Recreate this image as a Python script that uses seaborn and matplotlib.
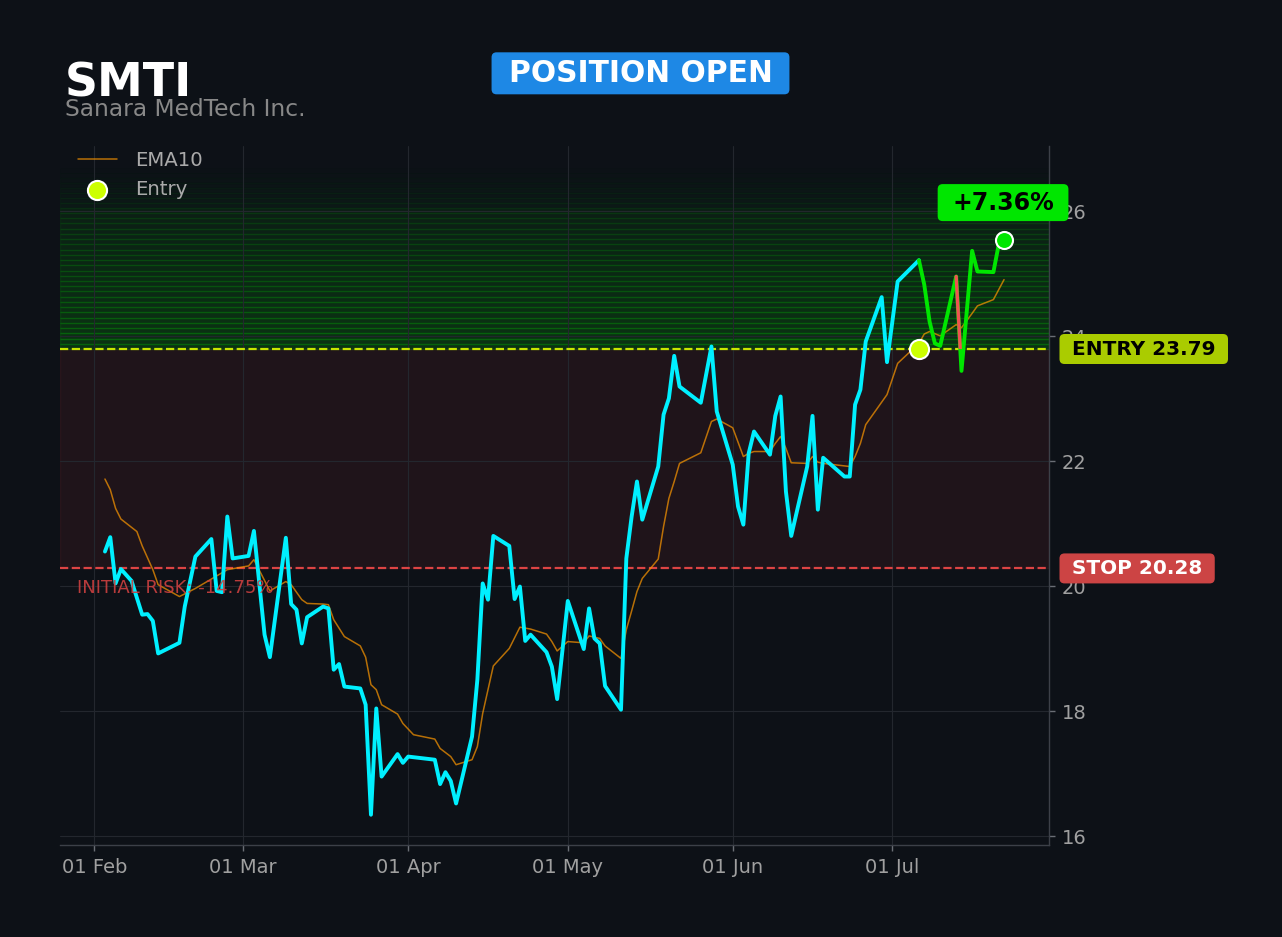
import matplotlib
matplotlib.use("Agg")
import matplotlib.pyplot as plt
import matplotlib.dates as mdates
from matplotlib.patches import FancyBboxPatch, Rectangle
from matplotlib.ticker import MultipleLocator
from matplotlib.transforms import IdentityTransform, blended_transform_factory
import seaborn as sns
import pandas as pd

sns.set_theme(style="dark")
plt.rcParams["font.family"] = ["DejaVu Sans"]

# ---------------- data ----------------
ticker = "SMTI"
company = "Sanara MedTech Inc."
status = "POSITION OPEN"
entry_price = 23.79
stop_price = 20.28
entry_date = "2025-07-06"
red_segment = ["2025-07-13", "2025-07-14"]

close_dates = (
    ["2025-02-03", "2025-02-04", "2025-02-05", "2025-02-06", "2025-02-08", "2025-02-10",
     "2025-02-11", "2025-02-12", "2025-02-13", "2025-02-17", "2025-02-18", "2025-02-20",
     "2025-02-23", "2025-02-24", "2025-02-25", "2025-02-26", "2025-02-27"]
    + ["2025-03-02", "2025-03-03", "2025-03-05", "2025-03-06", "2025-03-09", "2025-03-10",
       "2025-03-11", "2025-03-12", "2025-03-13", "2025-03-16", "2025-03-17", "2025-03-18",
       "2025-03-19", "2025-03-20", "2025-03-23", "2025-03-24", "2025-03-25", "2025-03-26",
       "2025-03-27", "2025-03-30", "2025-03-31"]
    + ["2025-04-01", "2025-04-06", "2025-04-07", "2025-04-08", "2025-04-09", "2025-04-10",
       "2025-04-13", "2025-04-14", "2025-04-15", "2025-04-16", "2025-04-17", "2025-04-20",
       "2025-04-21", "2025-04-22", "2025-04-23", "2025-04-24", "2025-04-27", "2025-04-28",
       "2025-04-29"]
    + ["2025-05-01", "2025-05-04", "2025-05-05", "2025-05-06", "2025-05-07", "2025-05-08",
       "2025-05-11", "2025-05-12", "2025-05-13", "2025-05-14", "2025-05-15", "2025-05-18",
       "2025-05-19", "2025-05-20", "2025-05-21", "2025-05-22", "2025-05-26", "2025-05-28",
       "2025-05-29"]
    + ["2025-06-01", "2025-06-02", "2025-06-03", "2025-06-04", "2025-06-05", "2025-06-08",
       "2025-06-09", "2025-06-10", "2025-06-11", "2025-06-12", "2025-06-15", "2025-06-16",
       "2025-06-17", "2025-06-18", "2025-06-22", "2025-06-23", "2025-06-24", "2025-06-25",
       "2025-06-26", "2025-06-29", "2025-06-30"]
    + ["2025-07-02", "2025-07-06", "2025-07-07", "2025-07-08", "2025-07-09", "2025-07-10",
       "2025-07-13", "2025-07-14", "2025-07-16", "2025-07-17", "2025-07-20", "2025-07-21",
       "2025-07-22"]
)
close_values = (
    [20.55, 20.78, 20.04, 20.27, 20.08, 19.54, 19.55, 19.44, 18.92, 19.09, 19.67, 20.47,
     20.75, 19.92, 19.90, 21.11, 20.44]
    + [20.48, 20.88, 19.22, 18.86, 20.77, 19.71, 19.62, 19.08, 19.50, 19.67, 19.64, 18.66,
       18.75, 18.39, 18.36, 18.10, 16.34, 18.04, 16.95, 17.31, 17.17]
    + [17.27, 17.22, 16.83, 17.02, 16.88, 16.52, 17.59, 18.50, 20.04, 19.78, 20.80, 20.64,
       19.79, 19.99, 19.12, 19.22, 18.94, 18.71, 18.19]
    + [19.76, 18.99, 19.64, 19.16, 19.08, 18.40, 18.02, 20.44, 21.11, 21.67, 21.06, 21.91,
       22.74, 23.00, 23.68, 23.19, 22.93, 23.83, 22.79]
    + [21.94, 21.27, 20.98, 22.12, 22.47, 22.10, 22.72, 23.03, 21.51, 20.80, 21.91, 22.72,
       21.22, 22.05, 21.75, 21.75, 22.90, 23.14, 23.91, 24.62, 23.58]
    + [24.87, 25.21, 24.82, 24.23, 23.88, 23.84, 24.95, 23.44, 25.36, 25.03, 25.02, 25.46,
       25.54]
)

ema_dates = (
    ["2025-02-03", "2025-02-04", "2025-02-05", "2025-02-06", "2025-02-09", "2025-02-10",
     "2025-02-12", "2025-02-13", "2025-02-17", "2025-02-20", "2025-02-23", "2025-02-26"]
    + ["2025-03-02", "2025-03-03", "2025-03-06", "2025-03-09", "2025-03-10", "2025-03-12",
       "2025-03-13", "2025-03-16", "2025-03-17", "2025-03-18", "2025-03-20", "2025-03-23",
       "2025-03-24", "2025-03-25", "2025-03-26", "2025-03-27", "2025-03-30", "2025-03-31"]
    + ["2025-04-02", "2025-04-06", "2025-04-07", "2025-04-09", "2025-04-10", "2025-04-13",
       "2025-04-14", "2025-04-15", "2025-04-17", "2025-04-20", "2025-04-22", "2025-04-24",
       "2025-04-27", "2025-04-28", "2025-04-29"]
    + ["2025-05-01", "2025-05-04", "2025-05-05", "2025-05-07", "2025-05-08", "2025-05-11",
       "2025-05-12", "2025-05-13", "2025-05-14", "2025-05-15", "2025-05-18", "2025-05-19",
       "2025-05-20", "2025-05-21", "2025-05-22", "2025-05-26", "2025-05-28", "2025-05-29"]
    + ["2025-06-01", "2025-06-02", "2025-06-03", "2025-06-04", "2025-06-05", "2025-06-08",
       "2025-06-09", "2025-06-10", "2025-06-11", "2025-06-12", "2025-06-15", "2025-06-16",
       "2025-06-17", "2025-06-18", "2025-06-23", "2025-06-24", "2025-06-25", "2025-06-26",
       "2025-06-30"]
    + ["2025-07-02", "2025-07-06", "2025-07-07", "2025-07-08", "2025-07-10", "2025-07-13",
       "2025-07-14", "2025-07-16", "2025-07-17", "2025-07-20", "2025-07-22"]
)
ema_values = (
    [21.71, 21.54, 21.24, 21.07, 20.87, 20.64, 20.26, 20.02, 19.83, 19.96, 20.11, 20.26]
    + [20.32, 20.42, 19.92, 20.07, 20.02, 19.78, 19.72, 19.71, 19.70, 19.46, 19.19, 19.04,
       18.86, 18.42, 18.34, 18.10, 17.95, 17.80]
    + [17.62, 17.55, 17.40, 17.27, 17.14, 17.22, 17.43, 17.96, 18.72, 19.00, 19.34, 19.31,
       19.23, 19.11, 18.96]
    + [19.11, 19.09, 19.20, 19.16, 19.04, 18.84, 19.30, 19.60, 19.91, 20.12, 20.43, 20.95,
       21.40, 21.67, 21.96, 22.13, 22.63, 22.67]
    + [22.53, 22.30, 22.07, 22.12, 22.15, 22.15, 22.28, 22.39, 22.20, 21.97, 21.96, 22.07,
       21.98, 21.96, 21.91, 22.07, 22.28, 22.58, 23.06]
    + [23.56, 23.88, 24.03, 24.07, 24.00, 24.18, 24.13, 24.36, 24.48, 24.58, 24.90]
)

y_ticks_step = 2
y_limits = (15.856, 27.04)
glow_top = 26.05

# ---------------- styling ----------------
BG = "#0d1117"
CYAN = "#00f0ff"
GREEN = "#00e600"
RED = "#ef5350"
EMA_C = "#ff9800"
ENTRY_LINE = "#c8e600"
ENTRY_BOX = "#aacc00"
ENTRY_DOT = "#ccff00"
STOP_LINE = "#dd4444"
STOP_BOX = "#cc4444"
GRID = "#23272e"
TXT = "#a0a0a0"

df = pd.DataFrame({"date": pd.to_datetime(close_dates), "close": close_values})
ema = pd.DataFrame({"date": pd.to_datetime(ema_dates), "ema": ema_values})
edate = pd.Timestamp(entry_date)
pre = df[df["date"] <= edate]
post = df[df["date"] >= edate]
redseg = df[df["date"].isin(pd.to_datetime(red_segment))]
last = df.iloc[-1]

fig = plt.figure(figsize=(12.82, 9.372), dpi=100)
fig.patch.set_facecolor(BG)
ax = fig.add_axes([60 / 1282, 92 / 937, 989 / 1282, 699 / 937])
ax.set_facecolor(BG)
ax.set_ylim(*y_limits)

# profit gradient zone (brighter near entry, fading upward)
n1 = 27
h1 = (glow_top - entry_price) / n1
for i in range(n1):
    a = 0.16 - 0.10 * i / n1
    ax.axhspan(entry_price + i * h1, entry_price + (i + 1) * h1, color=GREEN, alpha=a,
               lw=1, zorder=0.2)
n2 = 8
h2 = (y_limits[1] - 0.35 - glow_top) / n2
for i in range(n2):
    a = 0.035 * (1 - i / n2)
    ax.axhspan(glow_top + i * h2, glow_top + (i + 1) * h2, color=GREEN, alpha=a,
               lw=1, zorder=0.2)
# risk zone
ax.axhspan(stop_price, entry_price, color="#ff4444", alpha=0.08, zorder=0.2)

ax.axhline(entry_price, color=ENTRY_LINE, ls="--", lw=1.6, zorder=2)
ax.axhline(stop_price, color=STOP_LINE, ls="--", lw=1.6, zorder=2)

sns.lineplot(data=ema, x="date", y="ema", ax=ax, color=EMA_C, alpha=0.7, lw=1.1,
             zorder=2.5)
ema_line = ax.lines[-1]
sns.lineplot(data=pre, x="date", y="close", ax=ax, color=CYAN, lw=2.8, zorder=3)
sns.lineplot(data=post, x="date", y="close", ax=ax, color=GREEN, lw=2.8, zorder=3.2)
sns.lineplot(data=redseg, x="date", y="close", ax=ax, color=RED, lw=2.4, zorder=3.4)
red_line = ax.lines[-1]
clip_rect = Rectangle((0, entry_price), 1, 100,
                      transform=blended_transform_factory(ax.transAxes, ax.transData))
red_line.set_clip_path(clip_rect)

entry_sc = ax.scatter([edate], [entry_price], s=190, color=ENTRY_DOT, edgecolor="white",
                      linewidth=1.5, zorder=6)
ax.scatter([last["date"]], [last["close"]], s=150, color=GREEN, edgecolor="white",
           linewidth=1.5, zorder=6)

# axes cosmetics
ax.set_xlabel("")
ax.set_ylabel("")
ax.yaxis.tick_right()
ax.yaxis.set_major_locator(MultipleLocator(y_ticks_step))
ax.xaxis.set_major_locator(mdates.MonthLocator())
ax.xaxis.set_major_formatter(mdates.DateFormatter("%d %b"))
ax.tick_params(axis="both", labelsize=14, labelcolor=TXT, color="#6a6e75", length=4,
               width=1, pad=5)
ax.tick_params(axis="y", left=False, right=True)
ax.tick_params(axis="x", bottom=True)
ax.grid(True, color=GRID, lw=0.8)
ax.set_axisbelow(True)
for s in ["top", "left"]:
    ax.spines[s].set_visible(False)
for s in ["bottom", "right"]:
    ax.spines[s].set_visible(True)
    ax.spines[s].set_color("#3c4048")
    ax.spines[s].set_linewidth(1)

ax.legend(handles=[ema_line, entry_sc], labels=["EMA10", "Entry"], loc="upper left",
          bbox_to_anchor=(0.0, 1.018), frameon=False, fontsize=14.2, labelcolor="#aaaaaa",
          handletextpad=0.9)

risk = (stop_price - entry_price) / entry_price * 100
gain = (last["close"] - entry_price) / entry_price * 100

ax.annotate(f"INITIAL RISK: {risk:.2f}%", xy=(0, stop_price),
            xycoords=("axes fraction", "data"), xytext=(17, -10),
            textcoords="offset pixels", ha="left", va="top", fontsize=13,
            color="#cc4040", alpha=0.9, zorder=5)

t_entry = ax.annotate(f"ENTRY {entry_price:.2f}", xy=(1, entry_price),
                      xycoords=("axes fraction", "data"), xytext=(23, 0),
                      textcoords="offset pixels", ha="left", va="center", fontsize=14.4,
                      fontweight="bold", color="black", zorder=7)
t_stop = ax.annotate(f"STOP {stop_price:.2f}", xy=(1, stop_price),
                     xycoords=("axes fraction", "data"), xytext=(23, 0),
                     textcoords="offset pixels", ha="left", va="center", fontsize=14.4,
                     fontweight="bold", color="white", zorder=7)
t_gain = ax.annotate(f"{gain:+.2f}%", xy=(last["date"], last["close"]), xycoords="data",
                     xytext=(-1, 37), textcoords="offset pixels", ha="center", va="center",
                     fontsize=17, fontweight="bold", color="black", zorder=7)

fig.text(65 / 1282, 1 - 96 / 937, ticker, fontsize=33, fontweight="bold", color="white",
         ha="left", va="baseline")
fig.text(65 / 1282, 1 - 116 / 937, company, fontsize=16.8, color="#888888", ha="left",
         va="baseline")
t_status = fig.text(640.5 / 1282, 1 - 73.5 / 937, status, fontsize=21.4, fontweight="bold",
                    color="white", ha="center", va="center", zorder=5)

fig.canvas.draw()
renderer = fig.canvas.get_renderer()


def add_box(t, fc, padx, pady, container):
    bb = t.get_window_extent(renderer)
    p = FancyBboxPatch((bb.x0 - padx, bb.y0 - pady), bb.width + 2 * padx,
                       bb.height + 2 * pady, boxstyle="round,pad=0,rounding_size=5",
                       fc=fc, ec="none", transform=IdentityTransform(),
                       zorder=t.get_zorder() - 0.01)
    container.add_artist(p)
    p.set_clip_on(False)


add_box(t_entry, ENTRY_BOX, 12.5, 5.5, ax)
add_box(t_stop, STOP_BOX, 12.5, 5.5, ax)
add_box(t_gain, GREEN, 14.5, 6.5, ax)
add_box(t_status, "#1e88e5", 17, 6.5, fig)

fig.savefig("out.png", dpi=100, facecolor=BG)
